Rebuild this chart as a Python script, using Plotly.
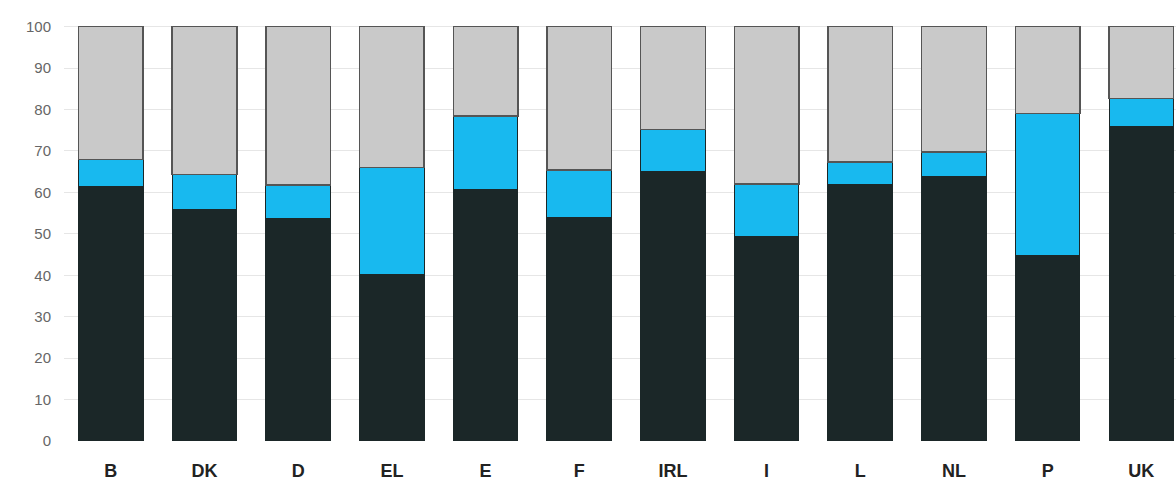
import plotly.graph_objects as go

categories = ["B", "DK", "D", "EL", "E", "F", "IRL", "I", "L", "NL", "P", "UK"]
black_vals = [61.5, 55.9, 53.6, 40.1, 60.6, 54.0, 65.0, 49.3, 61.8, 63.8, 44.7, 75.8]
cyan_tops = [68.0, 64.3, 61.8, 66.0, 78.4, 65.4, 75.2, 62.0, 67.3, 69.7, 79.0, 82.7]
cyan_vals = [round(c - b, 2) for c, b in zip(cyan_tops, black_vals)]
grey_vals = [round(100 - c, 2) for c in cyan_tops]
y_ticks = list(range(0, 101, 10))

fig = go.Figure()
fig.add_trace(go.Bar(x=categories, y=black_vals, marker=dict(color="#1b2728", line=dict(color="#1b2728", width=1)), width=0.69))
fig.add_trace(go.Bar(x=categories, y=cyan_vals, marker=dict(color="#18b9ef", line=dict(color="#1b2728", width=1)), width=0.69))
fig.add_trace(go.Bar(x=categories, y=grey_vals, marker=dict(color="#c9c9c9", line=dict(color="#555555", width=1.5)), width=0.69))

fig.update_layout(
    barmode="stack",
    width=1176, height=487,
    margin=dict(l=64, r=0, t=25, b=46),
    paper_bgcolor="white", plot_bgcolor="white",
    showlegend=False,
    xaxis=dict(range=[-0.5, 11.37], showgrid=False, showline=False, ticks="",
               tickfont=dict(family="Liberation Sans", size=18, color="#222222", weight="bold"),
               ticklabelstandoff=17),
    yaxis=dict(range=[0, 100.4], tickvals=y_ticks, showgrid=True, gridcolor="#e6e6e6", gridwidth=1,
               zeroline=False, showline=False, ticks="",
               tickfont=dict(family="Liberation Sans", size=15, color="#666666"),
               ticklabelstandoff=12),
    bargap=0.3,
)
fig.write_html("out.html", config={"displayModeBar": False},
               post_script="document.body.style.margin='0';document.body.style.overflow='hidden';")
